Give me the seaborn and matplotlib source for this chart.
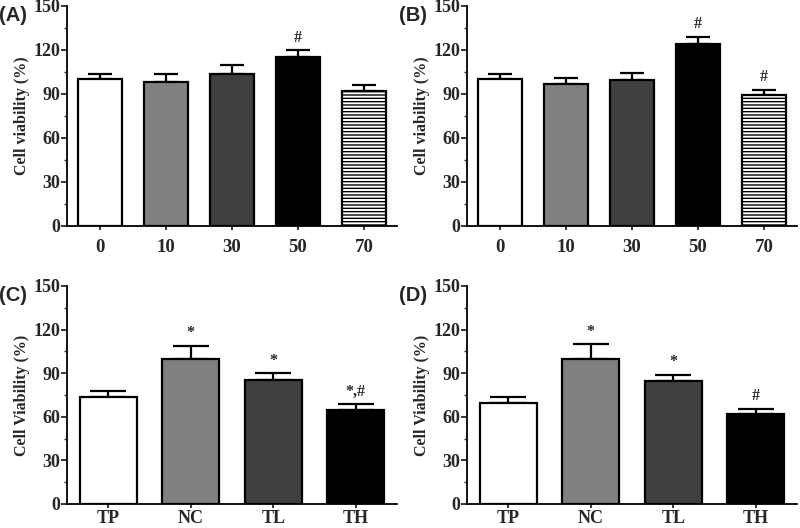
import matplotlib
matplotlib.use("Agg")
import matplotlib.pyplot as plt
import seaborn as sns
import pandas as pd
import numpy as np

sns.set_theme(style="ticks")
plt.rcParams['font.family'] = ['Liberation Serif', 'DejaVu Serif']
plt.rcParams['hatch.color'] = '#888888'
plt.rcParams['hatch.linewidth'] = 1.0

# ---- data ----
dose_labels = ["0", "10", "30", "50", "70"]
a_values = [100, 98.5, 103.5, 115, 92]
a_errors = [3.5, 5, 6, 5, 4]
a_marks = ["", "", "", "#", ""]

b_values = [100, 96.5, 99.5, 124, 89.5]
b_errors = [3.5, 4.5, 5, 5, 3.5]
b_marks = ["", "", "", "#", "#"]

group_labels = ["TP", "NC", "TL", "TH"]
c_values = [73.5, 100, 85.5, 65]
c_errors = [4.5, 9, 4.5, 3.5]
c_marks = ["", "*", "*", "*,#"]

d_values = [69.5, 100, 84.5, 62]
d_errors = [4, 10, 4.5, 3.5]
d_marks = ["", "*", "*", "#"]

dose_colors = ["#ffffff", "#808080", "#404040", "#000000", "#ffffff"]
group_colors = ["#ffffff", "#808080", "#404040", "#000000"]

fig = plt.figure(figsize=(8, 5.28), dpi=100)
W, H = 800, 528

def make_ax(l, t, r, b):
    return fig.add_axes([l / W, 1 - b / H, (r - l) / W, (b - t) / H])

def panel(ax, labels, values, errors, marks, colors, ylabel, tag, width, capsize, hatch_last, xpad, xsize):
    df = pd.DataFrame({"cat": labels, "val": values})
    sns.barplot(data=df, x="cat", y="val", hue="cat", palette=colors, legend=False,
                order=labels, width=width, edgecolor="black", linewidth=1.6,
                errorbar=None, ax=ax, saturation=1)
    for i, p in enumerate(ax.patches):
        p.set_zorder(2)
        if hatch_last and i == len(labels) - 1:
            p.set_hatch("-----")
    x = np.arange(len(labels))
    ax.errorbar(x, values, yerr=[np.zeros(len(values)), errors], fmt="none",
                ecolor="black", elinewidth=1.6, capsize=capsize, capthick=1.6, zorder=1)
    for xi, v, e, m in zip(x, values, errors, marks):
        if m:
            ax.text(xi, v + e + 3, m, ha="center", va="bottom", fontsize=11.5,
                    fontweight="bold")
    ax.set_xlim(-0.5, len(labels) - 0.5)
    ax.set_ylim(0, 150)
    ax.set_yticks([0, 30, 60, 90, 120, 150])
    ax.set_yticks(np.arange(15, 150, 30), minor=True)
    ax.set_xlabel("")
    ax.set_ylabel(ylabel, fontsize=11.5, fontweight="bold", labelpad=2)
    for s in ["top", "right"]:
        ax.spines[s].set_visible(False)
    for s in ["left", "bottom"]:
        ax.spines[s].set_linewidth(1.3)
        ax.spines[s].set_color("black")
    ax.tick_params(axis="y", which="major", length=4, width=1.3, labelsize=13, pad=1)
    ax.tick_params(axis="y", which="minor", length=2.5, width=1.0)
    ax.tick_params(axis="x", length=3, width=1.3, labelsize=xsize, pad=xpad)
    for t in ax.get_xticklabels() + ax.get_yticklabels():
        t.set_fontweight("bold")
    ax.text(-0.205, 1.0, tag, transform=ax.transAxes, fontsize=14.5, fontweight="bold",
            family=["Liberation Sans", "DejaVu Sans"], ha="left", va="top")

axA = make_ax(67, 6, 397, 226)
axB = make_ax(467, 6, 797, 226)
axC = make_ax(67, 286, 397, 504)
axD = make_ax(467, 286, 797, 504)

panel(axA, dose_labels, a_values, a_errors, a_marks, dose_colors, "Cell viability (%)", "(A)", 0.67, 8.3, True, 6, 13.5)
panel(axB, dose_labels, b_values, b_errors, b_marks, dose_colors, "Cell viability (%)", "(B)", 0.67, 8.3, True, 6, 13.5)
panel(axC, group_labels, c_values, c_errors, c_marks, group_colors, "Cell Viability (%)", "(C)", 0.69, 13, False, 1, 13)
panel(axD, group_labels, d_values, d_errors, d_marks, group_colors, "Cell Viability (%)", "(D)", 0.69, 13, False, 1, 13)

fig.savefig("out.png", dpi=100)
